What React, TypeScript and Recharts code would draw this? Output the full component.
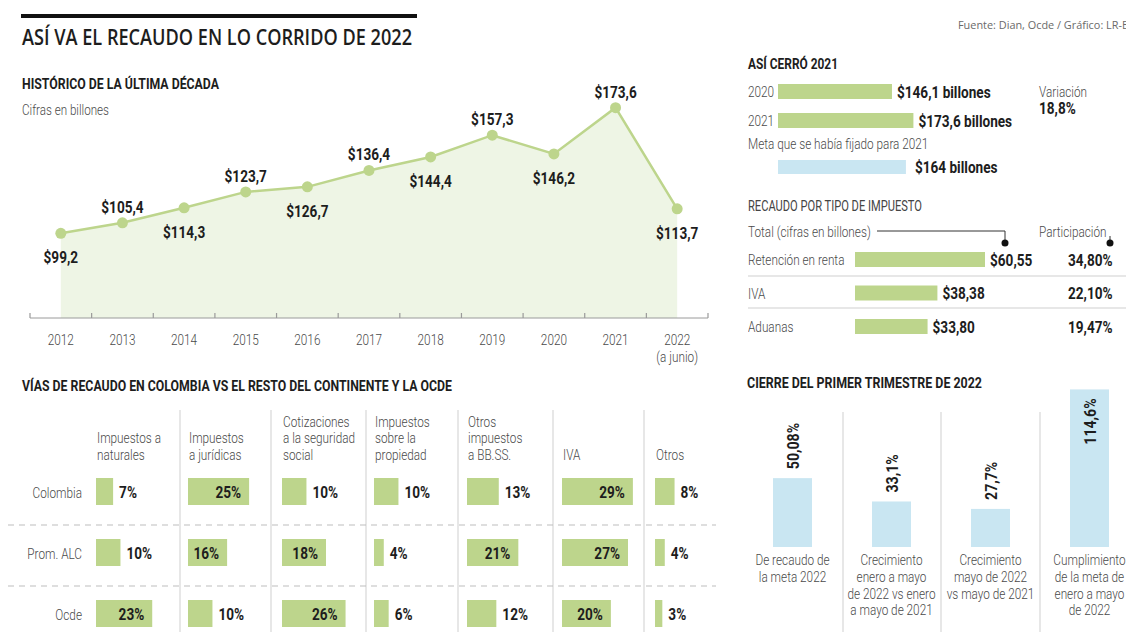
import React from "react"
import { ComposedChart, Area, XAxis, YAxis, BarChart, Bar } from "recharts"

// ============================================================
// Data
// ============================================================

const years = ["2012", "2013", "2014", "2015", "2016", "2017", "2018", "2019", "2020", "2021", "2022\n(a junio)"]
const recaudo = [99.2, 105.4, 114.3, 123.7, 126.7, 136.4, 144.4, 157.3, 146.2, 173.6, 113.7]

const cierreYears = ["2020", "2021"]
const cierreValues = [146.1, 173.6]
const metaValue = 164

const impuestoNames = ["Retención en renta", "IVA", "Aduanas"]
const impuestoValues = [60.55, 38.38, 33.8]
const impuestoPart = [34.8, 22.1, 19.47]

const trimestreLabels = [
  "De recaudo de\nla meta 2022",
  "Crecimiento\nenero a mayo\nde 2022 vs enero\na mayo de 2021",
  "Crecimiento\nmayo de 2022\nvs mayo de 2021",
  "Cumplimiento\nde la meta de\nenero a mayo\nde 2022",
]
const trimestreValues = [50.08, 33.1, 27.7, 114.6]

const regiones = ["Colombia", "Prom. ALC", "Ocde"]
const viasHeaders = [
  "Impuestos a\nnaturales",
  "Impuestos\na jurídicas",
  "Cotizaciones\na la seguridad\nsocial",
  "Impuestos\nsobre la\npropiedad",
  "Otros\nimpuestos\na BB.SS.",
  "IVA",
  "Otros",
]
const viasColombia = [7, 25, 10, 10, 13, 29, 8]
const viasPromAlc = [10, 16, 18, 4, 21, 27, 4]
const viasOcde = [23, 10, 26, 6, 12, 20, 3]

// ============================================================
// Styles / layout
// ============================================================

const GREEN = "#bdd58c"
const AREA = "#eef5e5"
const BLUE = "#c9e6f2"
const DARK = "#1d1d1d"
const GREY = "#4a4a4a"
const RULE = "#cfcfcf"

const viasColStarts = [96, 188, 282, 374, 467, 562, 655]

function fmt(v: number, digits?: number): string {
  const s = digits === undefined ? String(v) : v.toFixed(digits)
  return s.replace(".", ",")
}

// condensed text: Roboto squeezed horizontally
function CText({
  x, y, children, size = 15.5, weight = 300, sx = 0.76, anchor = "start", fill = GREY, rotate = 0,
}: any) {
  return (
    <text
      transform={`translate(${x},${y}) rotate(${rotate}) scale(${sx},1)`}
      textAnchor={anchor}
      fontFamily="Roboto, sans-serif"
      fontSize={size}
      fontWeight={weight}
      fill={fill}
    >
      {children}
    </text>
  )
}

function Bold(props: any) {
  return <CText size={16} weight={700} sx={0.85} fill={DARK} {...props} />
}

function Head({ x, y, w, children, size = 15, weight = 700, fill = DARK, family = "Roboto, sans-serif" }: any) {
  return (
    <text x={x} y={y} textLength={w} lengthAdjust="spacingAndGlyphs" fontSize={size} fontWeight={weight} fontFamily={family} fill={fill}>
      {children}
    </text>
  )
}

// ============================================================
// Line chart: histórico
// ============================================================

const lineData = years.map((year, i) => ({ i, year, v: recaudo[i] }))
const lineTicks = [...years.map((_, i) => i), ...years.map((_, i) => i - 0.5), years.length - 0.5].sort((a, b) => a - b)

const YearTick = ({ x, y, payload }: any) => {
  const v = payload.value
  if (!Number.isInteger(v)) {
    return <line x1={x} x2={x} y1={y - 5} y2={y} stroke="#9a9a9a" strokeWidth={1.2} />
  }
  const lines = years[v].split("\n")
  return (
    <g>
      {lines.map((l, k) => (
        <CText key={k} x={x} y={y + 27 + k * 17} anchor="middle">{l}</CText>
      ))}
    </g>
  )
}

const renderDot = (p: any) => {
  const { cx, cy, index, payload } = p
  const above = index % 2 === 1
  return (
    <g key={`dot-${index}`}>
      <circle cx={cx} cy={cy} r={5.5} fill={GREEN} />
      <Bold x={cx} y={above ? cy - 10 : cy + 30} anchor="middle">{"$" + fmt(payload.v)}</Bold>
    </g>
  )
}

function HistoricoChart() {
  return (
    <div style={{ position: "absolute", left: 0, top: 0 }}>
      <ComposedChart width={740} height={370} data={lineData} margin={{ top: 80, right: 32, left: 30, bottom: 0 }}>
        <XAxis
          dataKey="i"
          type="number"
          domain={[-0.5, 10.5]}
          ticks={lineTicks}
          interval={0}
          tickSize={0}
          tickMargin={0}
          height={52}
          stroke="#9a9a9a"
          tick={YearTick}
        />
        <YAxis hide domain={[49, 190]} />
        <Area
          type="linear"
          dataKey="v"
          stroke={GREEN}
          strokeWidth={2.5}
          fill={AREA}
          fillOpacity={1}
          dot={renderDot}
          activeDot={false}
          isAnimationActive={false}
        />
      </ComposedChart>
    </div>
  )
}

// ============================================================
// Así cerró 2021
// ============================================================

const cierreData = cierreYears.map((year, i) => ({ year, v: cierreValues[i] }))
const metaData = [{ year: "meta", v: metaValue }]

const hBarShape = (fill: string, label: (v: number) => string, gap: number) => (p: any) => {
  const { x, y, width, height, payload } = p
  return (
    <g>
      <rect x={x} y={y} width={width} height={height} fill={fill} />
      <Bold x={x + width + gap} y={y + height / 2 + 6}>{label(payload.v)}</Bold>
    </g>
  )
}

const LeftTick = ({ y, payload }: any) => (
  <CText x={0} y={y + 5.5}>{payload.value}</CText>
)

function CierreChart() {
  return (
    <>
      <div style={{ position: "absolute", left: 748, top: 77 }}>
        <BarChart layout="vertical" width={300} height={58} data={cierreData} margin={{ top: 0, right: 75, left: 0, bottom: 0 }}>
          <XAxis type="number" domain={[0, 250]} hide />
          <YAxis type="category" dataKey="year" width={30} axisLine={false} tickLine={false} tick={LeftTick} />
          <Bar dataKey="v" barSize={15} fill={GREEN} isAnimationActive={false} shape={hBarShape(GREEN, (v) => `$${fmt(v)} billones`, 5)} />
        </BarChart>
      </div>
      <div style={{ position: "absolute", left: 748, top: 151.5 }}>
        <BarChart layout="vertical" width={300} height={29} data={metaData} margin={{ top: 0, right: 75, left: 30, bottom: 0 }}>
          <XAxis type="number" domain={[0, 250]} hide />
          <YAxis type="category" dataKey="year" hide />
          <Bar dataKey="v" barSize={14} fill={BLUE} isAnimationActive={false} shape={hBarShape(BLUE, (v) => `$${fmt(v)} billones`, 9)} />
        </BarChart>
      </div>
    </>
  )
}

// ============================================================
// Recaudo por tipo de impuesto
// ============================================================

const impuestoData = impuestoNames.map((name, i) => ({ name, v: impuestoValues[i], part: impuestoPart[i] }))

const ImpuestoBar = (p: any) => {
  const { x, y, width, height, payload } = p
  return (
    <g>
      <rect x={x} y={y} width={width} height={height} fill={GREEN} />
      <Bold x={x + width + 5} y={y + height / 2 + 6}>{"$" + fmt(payload.v, 2)}</Bold>
      <Bold x={320} y={y + height / 2 + 6}>{fmt(payload.part, 2) + "%"}</Bold>
    </g>
  )
}

function ImpuestoChart() {
  return (
    <div style={{ position: "absolute", left: 748, top: 243 }}>
      <BarChart layout="vertical" width={378} height={100.5} data={impuestoData} margin={{ top: 0, right: 56.3, left: 0, bottom: 0 }}>
        <XAxis type="number" domain={[0, 100]} hide />
        <YAxis type="category" dataKey="name" width={107} axisLine={false} tickLine={false} tick={LeftTick} />
        <Bar dataKey="v" barSize={15} fill={GREEN} isAnimationActive={false} shape={ImpuestoBar} />
      </BarChart>
    </div>
  )
}

// ============================================================
// Cierre del primer trimestre
// ============================================================

const trimestreData = trimestreLabels.map((name, i) => ({ name, v: trimestreValues[i] }))

const TrimBar = (p: any) => {
  const { x, y, width, height, payload } = p
  const inside = payload.v > 100
  return (
    <g>
      <rect x={x} y={y} width={width} height={height} fill={BLUE} />
      <CText
        x={x + width / 2 + 6}
        y={inside ? y + 9 : y - 9}
        rotate={-90}
        anchor={inside ? "end" : "start"}
        size={17}
        weight={700}
        sx={0.83}
        fill={DARK}
      >
        {fmt(payload.v) + "%"}
      </CText>
    </g>
  )
}

const TrimTick = ({ x, y, payload }: any) => {
  const lines = String(payload.value).split("\n")
  return (
    <g>
      {lines.map((l, k) => (
        <CText key={k} x={x} y={y + 18 + k * 16.8} anchor="middle">{l}</CText>
      ))}
    </g>
  )
}

function TrimestreChart() {
  return (
    <div style={{ position: "absolute", left: 743, top: 372 }}>
      <BarChart width={396} height={260} data={trimestreData} margin={{ top: 10, right: 0, left: 0, bottom: 0 }}>
        <XAxis dataKey="name" height={85} axisLine={false} tickLine={false} tickSize={0} tickMargin={0} interval={0} tick={TrimTick} />
        <YAxis hide domain={[0, 120]} />
        <Bar dataKey="v" barSize={39} fill={BLUE} isAnimationActive={false} shape={TrimBar} />
      </BarChart>
    </div>
  )
}

// ============================================================
// Vías de recaudo
// ============================================================

const viasSeries = [viasColombia, viasPromAlc, viasOcde]

const ViasBar = (p: any) => {
  const { x, y, width, height, payload } = p
  const inside = payload.v >= 15
  return (
    <g>
      <rect x={x} y={y} width={width} height={height} fill={GREEN} />
      <Bold x={inside ? x + width - 8 : x + width + 6} y={y + height / 2 + 6} anchor={inside ? "end" : "start"}>
        {payload.v + "%"}
      </Bold>
    </g>
  )
}

const RowTick = ({ y, payload }: any) => (
  <CText x={82} y={y + 6} anchor="end">{payload.value}</CText>
)

function ViasColumn({ col }: { col: number }) {
  const data = regiones.map((region, r) => ({ region, v: viasSeries[r][col] }))
  const first = col === 0
  return (
    <div style={{ position: "absolute", left: first ? 0 : viasColStarts[col], top: 461 }}>
      <BarChart layout="vertical" width={(first ? 96 : 0) + 110} height={183} data={data} margin={{ top: 0, right: 0, left: 0, bottom: 0 }}>
        <XAxis type="number" domain={[0, 45]} hide />
        <YAxis type="category" dataKey="region" hide={!first} width={96} axisLine={false} tickLine={false} tick={RowTick} />
        <Bar dataKey="v" barSize={27} fill={GREEN} isAnimationActive={false} shape={ViasBar} />
      </BarChart>
    </div>
  )
}

// ============================================================
// Static text & rules
// ============================================================

function Overlay() {
  const variacion = (cierreValues[1] / cierreValues[0] - 1) * 100
  return (
    <svg width={1126} height={632} style={{ position: "absolute", left: 0, top: 0, pointerEvents: "none" }}>
      <rect x={21} y={14} width={396} height={4} fill="#111" />
      <Head x={22} y={44.5} w={390} size={21} weight={600} family="'Open Sans', sans-serif">ASÍ VA EL RECAUDO EN LO CORRIDO DE 2022</Head>
      <Head x={22} y={89} w={197}>HISTÓRICO DE LA ÚLTIMA DÉCADA</Head>
      <Head x={22} y={115} w={87} size={15} weight={300} fill={GREY}>Cifras en billones</Head>

      <Head x={22} y={390.5} w={430}>VÍAS DE RECAUDO EN COLOMBIA VS EL RESTO DEL CONTINENTE Y LA OCDE</Head>
      {viasHeaders.map((h, c) => {
        const lines = h.split("\n")
        return lines.map((l, k) => (
          <CText key={`${c}-${k}`} x={viasColStarts[c] + 1} y={460 - (lines.length - 1 - k) * 16.7}>{l}</CText>
        ))
      })}
      {[180, 271, 366, 458, 553, 644].map((x) => (
        <line key={x} x1={x} x2={x} y1={410} y2={632} stroke={RULE} />
      ))}
      {[525, 586].map((y) => (
        <line key={y} x1={8} x2={716} y1={y} y2={y} stroke="#bdbdbd" strokeDasharray="6 5" />
      ))}

      <Head x={958} y={28.5} w={170} size={10.5} weight={400} fill="#6a6a6a" family="'Open Sans', sans-serif">Fuente: Dian, Ocde / Gráfico: LR-E</Head>
      <Head x={748} y={68.5} w={90}>ASÍ CERRÓ 2021</Head>
      <CText x={748} y={149}>Meta que se había fijado para 2021</CText>
      <CText x={1039} y={97}>Variación</CText>
      <Bold x={1039} y={113.5}>{fmt(variacion, 1) + "%"}</Bold>

      <Head x={748} y={210.7} w={174} size={15} weight={400} fill="#444">RECAUDO POR TIPO DE IMPUESTO</Head>
      <CText x={748} y={237}>Total (cifras en billones)</CText>
      <polyline points="877,231 1005,231 1005,243" fill="none" stroke="#333" strokeWidth={1} />
      <circle cx={1005} cy={243} r={3.5} fill="#111" />
      <CText x={1039} y={237}>Participación</CText>
      <line x1={1110} x2={1110} y1={236} y2={243} stroke="#333" />
      <circle cx={1110} cy={243} r={3.5} fill="#111" />
      {[276, 308].map((y) => (
        <line key={y} x1={748} x2={1126} y1={y} y2={y} stroke={RULE} />
      ))}

      <Head x={747} y={388.3} w={235}>CIERRE DEL PRIMER TRIMESTRE DE 2022</Head>
      {[843, 941, 1040].map((x) => (
        <line key={x} x1={x} x2={x} y1={412} y2={632} stroke={RULE} />
      ))}
    </svg>
  )
}

export default function App() {
  return (
    <div style={{ position: "absolute", left: 0, top: 0, width: 1126, height: 632, overflow: "hidden", background: "#fff" }}>
      <HistoricoChart />
      <CierreChart />
      <ImpuestoChart />
      <TrimestreChart />
      {viasHeaders.map((_, c) => (
        <ViasColumn key={c} col={c} />
      ))}
      <Overlay />
    </div>
  )
}
